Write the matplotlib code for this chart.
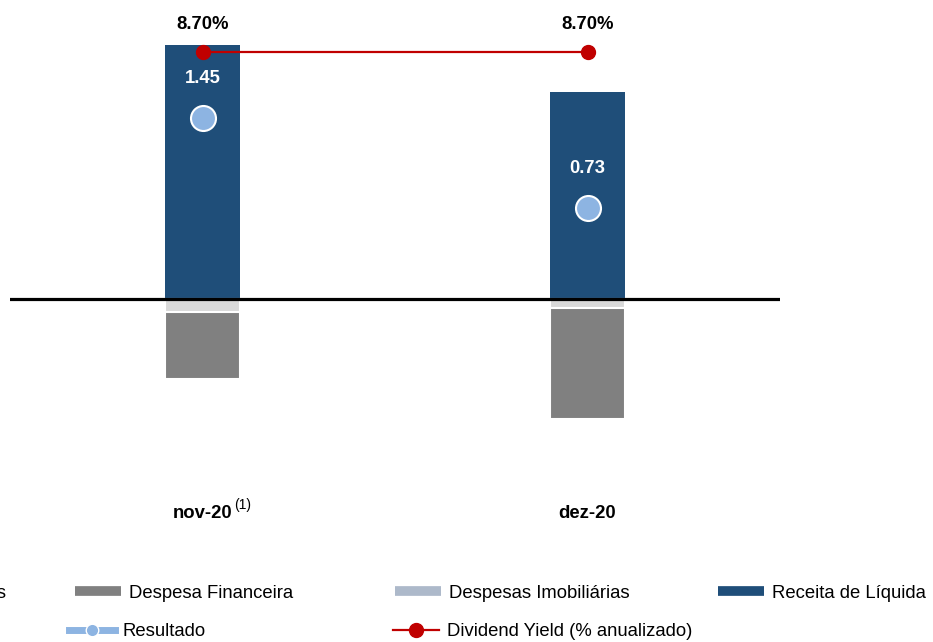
import matplotlib
matplotlib.use('Agg')
import matplotlib.pyplot as plt
from matplotlib.lines import Line2D

plt.rcParams['font.family'] = ['Liberation Sans', 'DejaVu Sans']

# data
categories = ['nov-20', 'dez-20']
receita = [2.03, 1.66]
desp_operacionais = [-0.10, -0.07]
desp_imobiliarias = [0.0, 0.0]
desp_financeira = [-0.54, -0.89]
resultado = [1.45, 0.73]
dividend_yield = [8.70, 8.70]

c_receita = '#1f4e79'
c_oper = '#d9d9d9'
c_imob = '#adb9ca'
c_fin = '#808080'
c_res = '#8db4e2'
c_dy = '#c00000'

fs = 13.3
W, H = 933, 642
fig = plt.figure(figsize=(W / 100, H / 100), dpi=100)
ax = fig.add_axes([10 / W, 1 - 495 / H, 770 / W, 485 / H])

x = list(range(len(categories)))
bw = 0.195

ax.bar(x, receita, bw, color=c_receita, zorder=2)
ax.bar(x, desp_operacionais, bw, color=c_oper, edgecolor='white', linewidth=1.5, zorder=2)
bottom_imob = desp_operacionais
ax.bar(x, desp_imobiliarias, bw, bottom=bottom_imob, color=c_imob, linewidth=0, zorder=2)
bottom_fin = [a + b for a, b in zip(desp_operacionais, desp_imobiliarias)]
ax.bar(x, desp_financeira, bw, bottom=bottom_fin, color=c_fin, edgecolor='white', linewidth=1.5, zorder=2)

ax.axhline(0, color='black', lw=2.3, zorder=3)

ax.plot(x, resultado, ls='none', marker='o', ms=18, mfc=c_res, mec='white', mew=1.5, zorder=4)
for xi, v in zip(x, resultado):
    ax.annotate(f'{v:.2f}', (xi, v), xytext=(0, 28), textcoords='offset points',
                ha='center', va='center', color='white', fontsize=fs, fontweight='bold')

ax.set_xlim(-0.5, 1.5)
ax.set_ylim(-1.568, 2.312)
ax.set_yticks([])
ax.set_xticks(x)
ax.set_xticklabels(categories, fontsize=fs, fontweight='bold')
ax.tick_params(axis='x', length=0, pad=7)
for s in ax.spines.values():
    s.set_visible(False)
ax.annotate('(1)', xy=(0, 0), xycoords=('data', 'axes fraction'), xytext=(29, -7),
            textcoords='offset points', ha='center', va='center', fontsize=10)

ax2 = ax.twinx()
ax2.plot(x, dividend_yield, color=c_dy, lw=1.6, marker='o', ms=10, zorder=5)
for xi, v in zip(x, dividend_yield):
    ax2.annotate(f'{v:.2f}%', (xi, v), xytext=(0, 20), textcoords='offset points',
                 ha='center', va='center', fontsize=fs, fontweight='bold')
ax2.set_ylim(0, 9.525)
ax2.set_yticks([])
for s in ax2.spines.values():
    s.set_visible(False)

# legend, one entry per slot (first column runs off the left edge as in the source)
bar_h = dict(lw=7, solid_capstyle='butt')
entries = [
    (Line2D([], [], color=c_oper, **bar_h), 'Despesas Operacionais', 6, 593, 'center right'),
    (Line2D([], [], color=c_fin, **bar_h), 'Despesa Financeira', 75, 593, 'center left'),
    (Line2D([], [], color=c_imob, **bar_h), 'Despesas Imobiliárias', 395, 593, 'center left'),
    (Line2D([], [], color=c_receita, **bar_h), 'Receita de Líquida', 718, 593, 'center left'),
    (Line2D([], [], color=c_res, lw=5, marker='o', ms=9, mfc=c_res, mec='white', mew=1), 'Resultado', 69, 632, 'center left'),
    (Line2D([], [], color=c_dy, lw=1.6, marker='o', ms=10), 'Dividend Yield (% anualizado)', 393, 632, 'center left'),
]
for h, lab, px, py, loc in entries:
    fig.legend([h], [lab], loc=loc, bbox_to_anchor=(px / W, 1 - py / H), frameon=False,
               fontsize=fs, handlelength=2.5, handletextpad=0.4, borderpad=0, borderaxespad=0)

fig.savefig('out.png', dpi=100)
